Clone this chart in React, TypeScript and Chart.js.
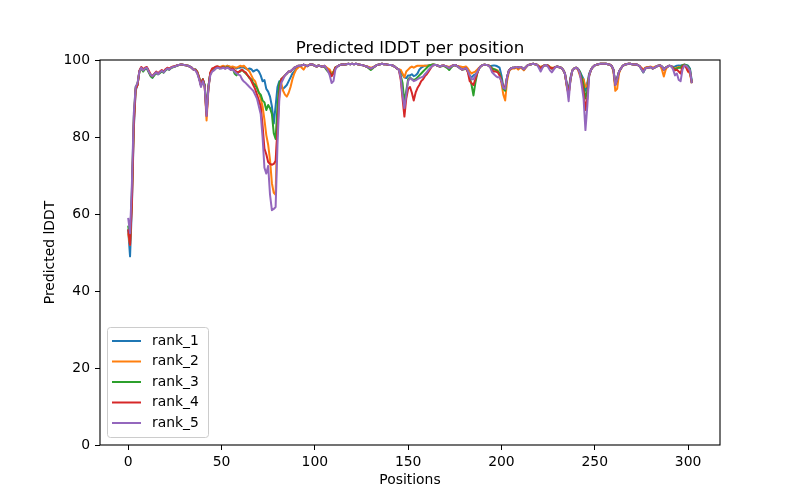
import React, { useEffect, useRef } from "react";
import { Chart, registerables } from "chart.js";

Chart.register(...registerables);

const TITLE = "Predicted lDDT per position";
const X_LABEL = "Positions";
const Y_LABEL = "Predicted lDDT";
const SERIES_NAMES = ["rank_1", "rank_2", "rank_3", "rank_4", "rank_5"];
const SERIES_COLORS = ["#1f77b4", "#ff7f0e", "#2ca02c", "#d62728", "#9467bd"];
const X_TICKS = [0, 50, 100, 150, 200, 250, 300];
const Y_TICKS = [0, 20, 40, 60, 80, 100];

const RANK_1 = [
  56, 49, 62, 82, 92, 93.5, 97, 98, 97.3, 97.8,
  98, 97, 96, 95.4, 96.3, 96.8, 96.3, 96.8, 97.2, 96.8,
  97.4, 97.8, 97.5, 98, 98.2, 98.3, 98.5, 98.7, 98.8, 98.8,
  98.7, 98.6, 98.5, 98.3, 98, 97.5, 97.6, 97, 95.5, 93.5,
  95, 93.5, 86, 93, 96.5, 97.5, 97.5, 98.2, 98.3, 98,
  98.2, 98.4, 98.1, 98.5, 98.3, 98, 98.2, 98, 97.8, 98,
  98, 98.2, 98, 97.8, 97.5, 97.8, 97.6, 97, 97.3, 97.5,
  97, 96, 94.5, 94.8, 92.5, 91.8, 90.5, 88, 83.5, 88,
  93, 94.5, 93, 92.5, 93, 93.5, 94.5, 95.5, 96.5, 97,
  97.8, 98.2, 98.5, 98.6, 98.8, 98.6, 98.4, 98.7, 98.9, 98.8,
  98.5, 98.3, 98.6, 98.4, 98.2, 98.5, 98, 97.5, 97, 96,
  96.8, 98, 98.3, 98.6, 98.8, 98.9, 98.8, 98.9, 99, 98.9,
  99, 98.9, 99, 98.9, 98.8, 98.7, 98.6, 98.4, 98.3, 98,
  97.8, 98, 98.3, 98.6, 98.8, 98.9, 99, 98.9, 98.9, 98.8,
  98.7, 98.7, 98.5, 98.2, 97.8, 97.5, 97, 96.2, 95.5, 95.3,
  96, 96, 96.3, 95.8, 96, 96.5, 97.5, 98, 98.3, 98.5,
  98.5, 98.6, 98.7, 98.8, 98.8, 98.7, 98.5, 98.3, 98.5, 98.6,
  98.4, 98.2, 97.9, 98.3, 98.6, 98.7, 98.5, 98.2, 97.8, 97.5,
  97.7, 97.9, 97.2, 96, 95.5, 96, 96.3, 96.8, 97.8, 98.4,
  98.7, 98.8, 98.7, 98.6, 98.4, 98.5, 98.6, 98.5, 98.3, 98,
  96, 93, 92.5, 95.5, 97.3, 97.8, 98, 98, 98.2, 98,
  98.2, 98, 97.6, 98.1, 98.6, 98.8, 98.9, 99, 98.9, 98.8,
  98.3, 97.8, 98.3, 98.6, 98.7, 98.5, 98, 97.8, 97.9, 98.2,
  98.3, 98.1, 98, 97.5, 96.5, 94, 92, 95.5, 97.3, 97.8,
  98, 97.7, 97, 96, 95, 92, 94, 96.5, 97.5, 98.2,
  98.6, 98.8, 98.9, 99, 99, 99, 99, 98.9, 98.8, 98.5,
  97.5, 94, 95.5, 97, 97.8, 98.5, 98.8, 98.9, 99, 99,
  98.9, 98.8, 98.9, 98.7, 98.4, 97.8, 96.8, 97.8, 98, 98,
  98.2, 97.8, 98, 98.3, 98.5, 98.6, 98.3, 97.8, 98, 98.3,
  98.5, 98.4, 98.2, 98.3, 98.5, 98.6, 98.5, 98.7, 98.8, 98.7,
  98.5, 97.8, 94.5,
];

const RANK_2 = [
  55, 52, 64, 84, 92.5, 93.5, 97, 98, 97.5, 97.8,
  98, 97.2, 96.3, 96, 96.3, 96.8, 96.5, 96.8, 97.2, 97,
  97.4, 97.8, 97.6, 98, 98.2, 98.4, 98.5, 98.7, 98.8, 98.8,
  98.7, 98.6, 98.5, 98.3, 98, 97.6, 97.5, 97, 95.5, 93.5,
  94.8, 93, 84.3, 92.5, 96.5, 97.5, 97.6, 98.2, 98.3, 98.2,
  98.3, 98.5, 98.2, 98.5, 98.4, 98.2, 98.3, 98.1, 98, 98.2,
  98.5, 98.3, 98.5, 98, 97.5, 97, 96, 95, 94.5, 93,
  91.5, 90, 88, 84.5, 80.5, 78, 74, 68, 65.5, 65,
  85, 93, 94, 92, 91, 90.5, 91.5, 93, 95, 96.5,
  97.5, 98, 98.5, 98, 97.5, 98.3, 98.5, 98.7, 98.9, 98.8,
  98.5, 98.3, 98.6, 98.4, 98.2, 98.5, 98.2, 97.8, 97.5, 96.5,
  97, 98, 98.3, 98.6, 98.8, 98.9, 98.8, 98.9, 99, 98.9,
  99, 98.9, 99, 98.9, 98.8, 98.7, 98.6, 98.4, 98.3, 98.2,
  98, 98.1, 98.3, 98.6, 98.8, 98.9, 99, 98.9, 98.9, 98.8,
  98.7, 98.7, 98.5, 98.2, 97.8, 97.5, 97.5, 96.5, 95.5, 97,
  97.5, 98, 98.3, 98, 98.3, 98.5, 98.5, 98.5, 98.5, 98.5,
  98.5, 98.6, 98.7, 98.8, 98.8, 98.7, 98.5, 98.3, 98.5, 98.6,
  98.4, 98.3, 98.2, 98.4, 98.6, 98.7, 98.5, 98.4, 98.3, 98.2,
  98.2, 98.3, 97.8, 97, 96.5, 96.8, 97, 97.5, 98, 98.4,
  98.7, 98.8, 98.7, 98.6, 98.3, 97.8, 97.6, 97.5, 97.3, 96.5,
  94, 91, 89.5, 94.5, 97, 97.6, 97.8, 97.8, 98, 97.5,
  98, 97.8, 97.3, 98, 98.6, 98.8, 98.9, 99, 98.9, 98.8,
  98.4, 98.2, 98.4, 98.6, 98.7, 98.5, 98.2, 98, 98, 98.2,
  98.3, 98.1, 98, 97.5, 96.5, 93, 91, 95, 97.3, 97.8,
  98, 97.5, 96, 95, 95, 93, 93.5, 96, 97.5, 98.2,
  98.6, 98.8, 98.9, 99, 99, 99, 99, 98.9, 98.8, 98.5,
  97, 92, 92.5, 96.5, 97.8, 98.5, 98.8, 98.9, 99, 99,
  98.9, 98.8, 98.9, 98.7, 98.4, 98, 97.5, 98, 98.2, 98.2,
  98.3, 98, 98.2, 98.4, 98.5, 98.6, 97.5, 95.7, 97.5, 98.3,
  98.5, 98.4, 98, 97.8, 98, 98.2, 98, 98.6, 98.8, 98.3,
  97, 96.5, 94,
];

const RANK_3 = [
  57, 53, 66, 85, 93, 93.8, 97, 97.8, 97, 97.6,
  97.8, 96.8, 95.8, 95.4, 96, 96.6, 96.3, 96.6, 97, 96.7,
  97.3, 97.7, 97.5, 97.9, 98.1, 98.3, 98.5, 98.7, 98.8, 98.8,
  98.7, 98.6, 98.5, 98.3, 98, 97.5, 97.5, 96.8, 95.3, 93.5,
  95, 93.5, 86.5, 93.2, 96.5, 97.3, 97.4, 98, 98.1, 97.8,
  98, 98.2, 97.9, 98.2, 98, 97.6, 97.8, 96.5, 96, 96.8,
  97, 97.5, 97, 96.5, 96, 95.3, 95, 94, 93.5, 92.7,
  91.5, 91, 89.5, 89, 87, 88.3, 87.5, 86, 81, 79.5,
  88, 94, 95, 95.5, 96, 96.5, 97, 97, 97.5, 98,
  98.2, 98.5, 98.5, 98.6, 98.8, 98.6, 98.4, 98.7, 98.9, 98.8,
  98.5, 98.3, 98.6, 98.4, 98.2, 98.3, 97.6, 97, 96.8, 96,
  96.8, 98, 98.3, 98.6, 98.8, 98.9, 98.8, 98.9, 99, 98.9,
  99, 98.9, 99, 98.9, 98.8, 98.7, 98.6, 98.4, 98.2, 97.8,
  97.4, 97.8, 98.3, 98.6, 98.8, 98.9, 99, 98.9, 98.9, 98.8,
  98.7, 98.7, 98.5, 98.2, 97.8, 97.5, 96, 94, 89, 92,
  95, 95.5, 95, 94.8, 95, 95.5, 96, 96.5, 97, 97.5,
  98, 98.5, 98.7, 98.8, 98.8, 98.7, 98.5, 98.3, 98.4, 98.5,
  98.2, 97.9, 97.4, 98, 98.5, 98.7, 98.5, 98.2, 97.8, 97.5,
  97.6, 97.8, 97, 95.5, 93.5, 90.8, 94, 96.5, 97.8, 98.4,
  98.7, 98.8, 98.7, 98.6, 98.3, 97.8, 97.6, 97.4, 97, 96.5,
  95, 92.5, 92, 95.5, 97.3, 97.8, 98, 98, 98.2, 98,
  98.2, 98, 97.6, 98.1, 98.6, 98.8, 98.9, 99, 98.9, 98.8,
  98.3, 97.8, 98.3, 98.6, 98.7, 98.5, 98, 97.8, 97.9, 98.2,
  98.3, 98.1, 98, 97.5, 96.5, 93.5, 91.5, 95, 97.3, 97.8,
  98, 97.7, 97, 95.5, 93.5, 90, 92, 96, 97.5, 98.2,
  98.6, 98.8, 98.9, 99, 99, 99, 99, 98.9, 98.8, 98.5,
  97.5, 93.5, 95, 97, 97.8, 98.5, 98.8, 98.9, 99, 99,
  98.9, 98.8, 98.9, 98.7, 98.4, 97.6, 96.8, 97.8, 98, 98,
  98.2, 97.8, 98, 98.3, 98.5, 98.6, 98.3, 97.5, 98, 98.3,
  98.5, 98.4, 98, 97.6, 97.8, 98, 98, 98.6, 98.8, 98.7,
  98.3, 97.5, 94,
];

const RANK_4 = [
  56, 52, 63, 83, 92.5, 93.5, 97.2, 98.2, 97.6, 98,
  98.2, 97.2, 96.2, 95.8, 96.4, 97, 96.5, 97, 97.4, 97,
  97.6, 98, 97.7, 98.1, 98.3, 98.4, 98.6, 98.7, 98.8, 98.8,
  98.7, 98.6, 98.5, 98.3, 98, 97.5, 97.5, 96.8, 95.3, 93.3,
  95, 93.2, 85.5, 93, 96.8, 97.8, 98, 98.3, 98.3, 98,
  98, 98.2, 97.8, 98.1, 97.9, 97.5, 97.8, 97.3, 97, 96.8,
  97.2, 97.5, 97, 96.8, 96, 95.5, 94.5, 93.5, 92.5, 91,
  89.5, 88, 83, 77, 75.5, 73.5, 73, 72.8, 73, 73.8,
  82, 91, 95, 95.5, 96, 96.5, 97, 97, 97.5, 98,
  98.2, 98.5, 98.5, 98.6, 98.8, 98.6, 98.4, 98.7, 98.9, 98.8,
  98.5, 98.3, 98.6, 98.4, 98.2, 98.5, 98, 97.3, 96.8, 95.8,
  96.5, 98, 98.3, 98.6, 98.8, 98.9, 98.8, 98.9, 99, 98.9,
  99, 98.9, 99, 98.9, 98.8, 98.7, 98.6, 98.4, 98.3, 98,
  97.8, 98, 98.3, 98.6, 98.8, 98.9, 99, 98.9, 98.9, 98.8,
  98.7, 98.7, 98.5, 98.2, 97.8, 97.5, 95, 90, 85.3, 90,
  92.5, 93, 91.5, 89.5, 91.5, 92.7, 93.5, 94.5, 95, 95.8,
  96.3, 97, 97.8, 98.5, 98.7, 98.7, 98.5, 98.3, 98.5, 98.6,
  98.4, 98.2, 97.9, 98.3, 98.6, 98.7, 98.5, 98.2, 97.8, 97.5,
  97.7, 97.9, 96.8, 94.5, 94, 93.5, 95, 96.5, 97.8, 98.4,
  98.7, 98.8, 98.7, 98.6, 98.2, 97.3, 97, 97, 96.8, 96,
  94.5, 93, 93, 95.5, 97.3, 97.8, 98, 98, 98.2, 98,
  98.2, 98, 97.6, 98.1, 98.6, 98.8, 98.9, 99, 98.9, 98.8,
  98.3, 97.8, 98.3, 98.6, 98.7, 98.5, 98, 97.8, 97.9, 98.2,
  98.3, 98.1, 98, 97.5, 96.5, 93.5, 91, 95, 97.3, 97.8,
  98, 97.7, 96.5, 94.5, 91.8, 87, 90, 96, 97.5, 98.2,
  98.6, 98.8, 98.9, 99, 99, 99, 99, 98.9, 98.8, 98.5,
  97.5, 93.5, 95, 97, 97.8, 98.5, 98.8, 98.9, 99, 99,
  98.9, 98.8, 98.9, 98.7, 98.4, 97.8, 97.2, 97.8, 98, 98,
  98.2, 97.8, 98, 98.3, 98.5, 98.6, 98.3, 97.5, 98, 98.3,
  98.5, 98.4, 97.8, 97.3, 97.5, 97, 96.5, 98.3, 98.6, 98,
  97, 97, 94,
];

const RANK_5 = [
  59, 55, 68, 86, 93, 94, 97, 98, 97.3, 97.8,
  98, 97, 96.2, 95.8, 96.3, 96.8, 96.3, 96.8, 97.2, 96.8,
  97.4, 97.8, 97.5, 98, 98.2, 98.3, 98.5, 98.7, 98.8, 98.8,
  98.7, 98.6, 98.5, 98.3, 98, 97.5, 97.3, 96.5, 95, 93,
  94.5, 93, 85.5, 92.8, 96, 97, 97.3, 97.8, 98, 97.8,
  97.8, 98, 97.7, 98, 97.8, 97.4, 97.5, 97, 96.5, 96.2,
  96, 95, 94.4, 94, 93.5, 93, 92.5, 92, 91, 90,
  88, 86, 80, 72, 70.5, 72.5, 65, 61, 61.3, 61.8,
  78, 90, 94, 95, 96, 96.5, 97, 97.2, 97.5, 98,
  98.2, 98.5, 98.5, 98.6, 98.8, 98.6, 98.4, 98.7, 98.9, 98.8,
  98.5, 98.3, 98.6, 98.4, 98.2, 98.5, 98, 97.2, 96, 94,
  94.5, 97.5, 98.3, 98.6, 98.8, 98.9, 98.8, 98.9, 99, 98.9,
  99, 98.9, 99, 98.9, 98.8, 98.7, 98.6, 98.4, 98.3, 98,
  97.8, 98, 98.3, 98.6, 98.8, 98.9, 99, 98.9, 98.9, 98.8,
  98.7, 98.7, 98.5, 98.2, 97.8, 97.5, 95.5, 91, 87.5, 91,
  94.5, 95.3, 95, 94.5, 94.7, 95, 95.3, 95.5, 95.7, 96.3,
  96.8, 97.5, 98, 98.5, 98.7, 98.7, 98.5, 98.3, 98.5, 98.6,
  98.4, 98.2, 97.9, 98.3, 98.6, 98.7, 98.5, 98.2, 97.8, 97.5,
  97.7, 97.9, 97.2, 96, 95, 95, 96, 96.8, 97.8, 98.4,
  98.7, 98.8, 98.7, 98.6, 98, 96.8, 96.3, 95.8, 95.5, 95.5,
  94.5, 92.7, 92.5, 95.5, 97.3, 97.8, 98, 98, 98.2, 98,
  98.2, 98, 97.6, 98.1, 98.6, 98.8, 98.9, 99, 98.9, 98.8,
  98, 97, 98, 98.6, 98.7, 98.2, 97.3, 96.8, 97.5, 98.2,
  98.3, 98.1, 98, 97.5, 96.5, 93.5, 89.3, 95, 97.3, 97.8,
  98, 97.7, 96.5, 93.5, 90, 81.8, 88, 96, 97.5, 98.2,
  98.6, 98.8, 98.9, 99, 99, 99, 99, 98.9, 98.8, 98.5,
  97.5, 93.5, 95, 97, 97.8, 98.5, 98.8, 98.9, 99, 99,
  98.9, 98.8, 98.9, 98.7, 98.4, 97.6, 96.8, 97.8, 98, 98,
  98.2, 97.8, 98, 98.3, 98.5, 98.6, 98.3, 97.5, 98, 98.3,
  98.5, 98.4, 97.5, 96, 96.5, 94.8, 94.5, 97.5, 98.6, 98.5,
  98, 97.3, 94,
];

const SERIES_VALUES = [RANK_1, RANK_2, RANK_3, RANK_4, RANK_5];
const POSITIONS = RANK_1.map((_, i) => i);

const FONT_FAMILY = "'DejaVu Sans', sans-serif";

const decorPlugin = {
  id: "decor",
  afterDraw(chart: any) {
    const { ctx, chartArea: a } = chart;
    ctx.save();
    // frame (spines)
    ctx.strokeStyle = "#000";
    ctx.lineWidth = 1.1;
    ctx.strokeRect(a.left, a.top, a.right - a.left, a.bottom - a.top);

    // title
    ctx.fillStyle = "#000";
    ctx.font = `16.7px ${FONT_FAMILY}`;
    ctx.textAlign = "center";
    ctx.textBaseline = "alphabetic";
    ctx.fillText(TITLE, (a.left + a.right) / 2, a.top - 7);

    // axis labels
    ctx.font = `13.9px ${FONT_FAMILY}`;
    ctx.textBaseline = "middle";
    ctx.fillText(X_LABEL, (a.left + a.right) / 2, 480);
    ctx.save();
    ctx.translate(50, (a.top + a.bottom) / 2);
    ctx.rotate(-Math.PI / 2);
    ctx.fillText(Y_LABEL, 0, 0);
    ctx.restore();

    // legend
    const datasets = chart.data.datasets;
    const bx = a.left + 7.5;
    const by = 327.5;
    const bw = 101;
    const bh = 110;
    const r = 3;
    ctx.beginPath();
    ctx.moveTo(bx + r, by);
    ctx.lineTo(bx + bw - r, by);
    ctx.arcTo(bx + bw, by, bx + bw, by + r, r);
    ctx.lineTo(bx + bw, by + bh - r);
    ctx.arcTo(bx + bw, by + bh, bx + bw - r, by + bh, r);
    ctx.lineTo(bx + r, by + bh);
    ctx.arcTo(bx, by + bh, bx, by + bh - r, r);
    ctx.lineTo(bx, by + r);
    ctx.arcTo(bx, by, bx + r, by, r);
    ctx.closePath();
    ctx.fillStyle = "rgba(255,255,255,0.8)";
    ctx.fill();
    ctx.strokeStyle = "#cccccc";
    ctx.lineWidth = 1;
    ctx.stroke();

    ctx.textAlign = "left";
    ctx.textBaseline = "middle";
    datasets.forEach((ds: any, i: number) => {
      const yy = 341 + i * 20.5;
      ctx.strokeStyle = ds.borderColor;
      ctx.lineWidth = 2;
      ctx.beginPath();
      ctx.moveTo(bx + 4.5, yy);
      ctx.lineTo(bx + 33.5, yy);
      ctx.stroke();
      ctx.fillStyle = "#000";
      ctx.fillText(ds.label, bx + 44.5, yy);
    });
    ctx.restore();
  },
};

export default function App() {
  const canvasRef = useRef<HTMLCanvasElement | null>(null);

  useEffect(() => {
    document.body.style.margin = "0";
    const canvas = canvasRef.current;
    if (!canvas) return;
    const tickFont = { family: FONT_FAMILY, size: 13.9 };
    const chart = new Chart(canvas, {
      type: "line",
      data: {
        datasets: SERIES_VALUES.map((vals, i) => ({
          label: SERIES_NAMES[i],
          data: POSITIONS.map((x, j) => ({ x, y: vals[j] })),
          borderColor: SERIES_COLORS[i],
          backgroundColor: SERIES_COLORS[i],
          borderWidth: 2,
          pointRadius: 0,
          pointHoverRadius: 0,
          fill: false,
          tension: 0,
          borderJoinStyle: "round" as const,
          order: SERIES_VALUES.length - 1 - i,
        })),
      },
      options: {
        responsive: false,
        animation: false,
        events: [],
        layout: { padding: { top: 60, right: 80, bottom: 0, left: 0 } },
        plugins: {
          legend: { display: false },
          title: { display: false },
          tooltip: { enabled: false },
        },
        scales: {
          x: {
            type: "linear",
            min: -15.1,
            max: 317.1,
            afterBuildTicks: (s: any) => {
              s.ticks = X_TICKS.map((v) => ({ value: v }));
            },
            afterFit: (s: any) => {
              s.height = 55;
            },
            grid: {
              display: true,
              drawOnChartArea: false,
              drawTicks: true,
              tickLength: 5,
              color: "#000",
              lineWidth: 1,
            },
            border: { display: false },
            ticks: {
              color: "#000",
              font: tickFont,
              padding: 4,
              maxRotation: 0,
              autoSkip: false,
            },
          },
          y: {
            type: "linear",
            min: 0,
            max: 100,
            afterBuildTicks: (s: any) => {
              s.ticks = Y_TICKS.map((v) => ({ value: v }));
            },
            afterFit: (s: any) => {
              s.width = 100;
            },
            grid: {
              display: true,
              drawOnChartArea: false,
              drawTicks: true,
              tickLength: 5,
              color: "#000",
              lineWidth: 1,
            },
            border: { display: false },
            ticks: {
              color: "#000",
              font: tickFont,
              padding: 5,
              autoSkip: false,
            },
          },
        },
      },
      plugins: [decorPlugin],
    } as any);
    return () => chart.destroy();
  }, []);

  return (
    <canvas
      ref={canvasRef}
      width={800}
      height={500}
      style={{ display: "block", width: 800, height: 500 }}
    />
  );
}
